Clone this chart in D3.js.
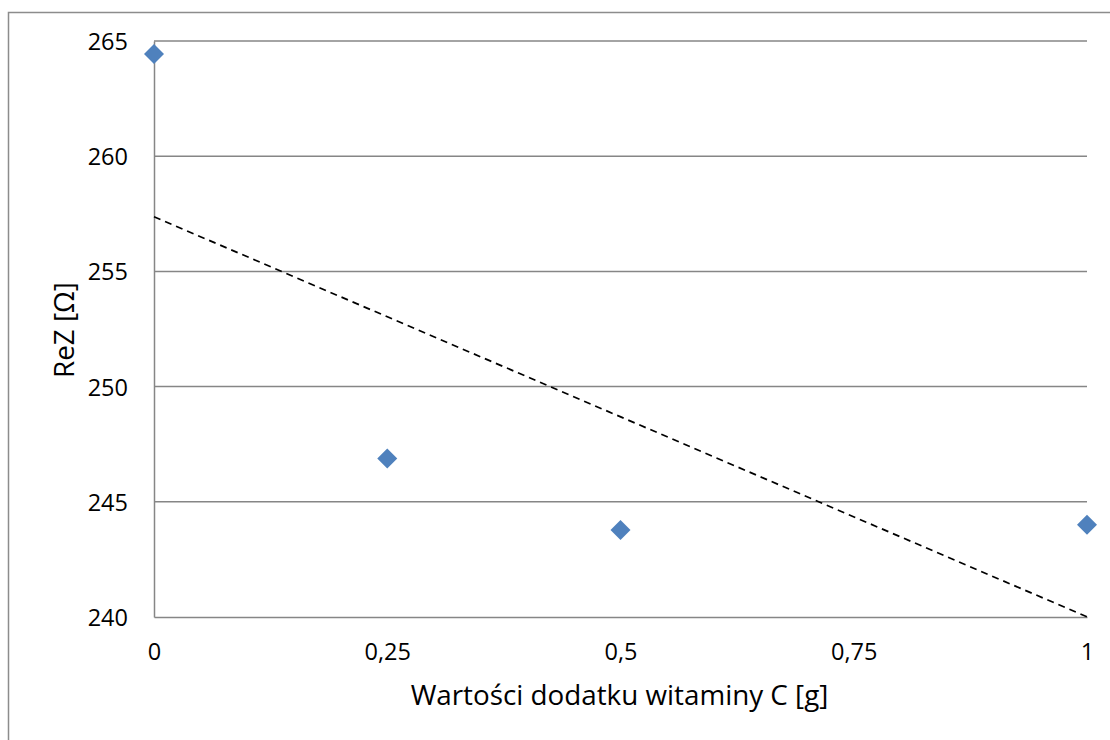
<!DOCTYPE html>
<html>
<head>
<meta charset="utf-8">
<script src="https://cdn.jsdelivr.net/npm/d3@7"></script>
<style>
  html, body { margin: 0; padding: 0; background: #fff; }
  svg { display: block; font-family: "Open Sans", "Noto Sans", sans-serif; }
</style>
</head>
<body>
<svg id="chart" width="1110" height="740"></svg>
<script>
// Vitamin C additive amounts [g] and measured real part of impedance [Ω]
const doses = [0, 0.25, 0.5, 1];
const reZ = [264.44, 246.88, 243.78, 244.0];
const xTicks = [0, 0.25, 0.5, 0.75, 1];
const yTicks = [240, 245, 250, 255, 260, 265];
const xTitle = "Wartości dodatku witaminy C [g]";
const yTitle = "ReZ [Ω]";

const svg = d3.select("#chart");
const W = 1110, H = 740;
const plot = { left: 154, right: 1087, top: 41, bottom: 617 };

const x = d3.scaleLinear().domain([0, 1]).range([plot.left, plot.right]);
const y = d3.scaleLinear().domain([240, 265]).range([plot.bottom, plot.top]);
const fmt = d => String(d).replace(".", ",");

// chart frame
svg.append("rect")
  .attr("x", 8.5).attr("y", 12.5)
  .attr("width", W + 20).attr("height", H + 20)
  .attr("fill", "none").attr("stroke", "#8c8c8c").attr("stroke-width", 1.5);

// horizontal gridlines
svg.append("g")
  .selectAll("line")
  .data(yTicks.filter(t => t !== 240))
  .join("line")
  .attr("x1", plot.left).attr("x2", plot.right)
  .attr("y1", d => y(d)).attr("y2", d => y(d))
  .attr("stroke", "#868686").attr("stroke-width", 1.5);

// y axis
const yAxis = svg.append("g")
  .attr("transform", `translate(${plot.left},0)`)
  .call(d3.axisLeft(y).tickValues(yTicks).tickSize(0).tickPadding(26).tickFormat(d => d));
yAxis.select(".domain").attr("stroke", "#868686").attr("stroke-width", 1.5);
yAxis.selectAll("text")
  .attr("font-size", 23.5).attr("fill", "#000")
  .attr("font-family", "'Open Sans', sans-serif")
  .attr("dy", "0.36em");

// x axis
const xAxis = svg.append("g")
  .attr("transform", `translate(0,${plot.bottom})`)
  .call(d3.axisBottom(x).tickValues(xTicks).tickSize(0).tickPadding(26).tickFormat(fmt));
xAxis.select(".domain").attr("stroke", "#868686").attr("stroke-width", 1.5);
xAxis.selectAll("text")
  .attr("font-size", 23.5).attr("fill", "#000")
  .attr("font-family", "'Open Sans', sans-serif")
  .attr("dy", "0.72em");

// least-squares linear trend
const mx = d3.mean(doses), my = d3.mean(reZ);
const slope = d3.sum(doses, (d, i) => (d - mx) * (reZ[i] - my)) / d3.sum(doses, d => (d - mx) ** 2);
const intercept = my - slope * mx;
svg.append("line")
  .attr("x1", x(0)).attr("y1", y(intercept))
  .attr("x2", x(1)).attr("y2", y(intercept + slope))
  .attr("stroke", "#000").attr("stroke-width", 1.7)
  .attr("stroke-dasharray", "7,5");

// data markers (diamonds)
const diamond = d3.symbol().type(d3.symbolSquare).size(200);
svg.append("g")
  .selectAll("path")
  .data(doses.map((d, i) => [d, reZ[i]]))
  .join("path")
  .attr("d", diamond)
  .attr("transform", d => `translate(${x(d[0])},${y(d[1])}) rotate(45)`)
  .attr("fill", "#4f81bd");

// axis titles
svg.append("text")
  .attr("x", (plot.left + plot.right) / 2 - 1).attr("y", 705)
  .attr("text-anchor", "middle")
  .attr("font-size", 27.8).attr("fill", "#000")
  .text(xTitle);

svg.append("text")
  .attr("transform", `translate(74,${(plot.top + plot.bottom) / 2 + 1}) rotate(-90)`)
  .attr("text-anchor", "middle")
  .attr("font-size", 27.8).attr("fill", "#000")
  .text(yTitle);
</script>
</body>
</html>
